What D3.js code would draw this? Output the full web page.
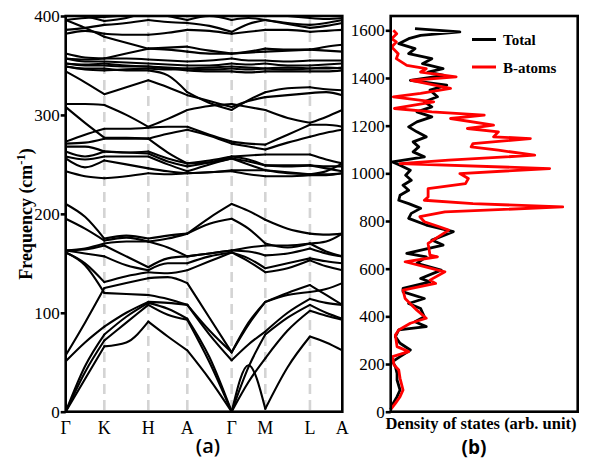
<!DOCTYPE html>
<html>
<head>
<meta charset="utf-8">
<script src="https://cdn.jsdelivr.net/npm/d3@7"></script>
<style>
  body { margin: 0; background: #fff; }
  text { fill: #000; }
</style>
</head>
<body>
<svg id="chart" width="595" height="459"></svg>
<script>
// High-symmetry path of the Brillouin zone
const kLabels = ["Γ", "K", "H", "A", "Γ", "M", "L", "A"];
const kPositions = [0, 0.1396, 0.2986, 0.4396, 0.600, 0.7216, 0.883, 1.0];

// Phonon branches (cm^-1), sampled at every high-symmetry point and at the
// middle of each segment: Γ, ½, K, ½, H, ½, A, ½, Γ, ½, M, ½, L, ½, A
const lowBands = [
  [0, 33, 66, 70, 91, 76, 62, 33, 0, 47, 3, 45, 76, 70, 62],
  [0, 40, 72, 90, 108, 98, 93, 50, 0, 30, 54, 82, 102, 97, 93],
  [0, 46, 78, 96, 110, 104, 94, 55, 0, 45, 78, 95, 108, 100, 94],
  [51, 70, 86, 100, 111, 110, 108, 78, 52, 68, 81, 100, 114, 110, 108],
  [57, 90, 125, 130, 135, 136, 130, 95, 60, 88, 111, 118, 121, 124, 130],
  [161, 148, 120, 119, 118, 114, 108, 82, 60, 90, 111, 120, 128, 118, 108],
  [161, 150, 131, 137, 141, 140, 143, 152, 161, 152, 141, 145, 153, 147, 143],
  [163, 160, 157, 148, 143, 150, 150, 157, 161, 155, 145, 150, 155, 152, 150],
  [163, 164, 168, 157, 146, 155, 157, 160, 163, 162, 158, 160, 165, 160, 157],
  [163, 165, 170, 172, 172, 166, 157, 160, 163, 166, 168, 168, 170, 162, 157],
  [195, 185, 173, 176, 172, 175, 180, 190, 195, 185, 170, 166, 170, 172, 180],
  [210, 197, 175, 178, 175, 178, 180, 196, 210, 203, 194, 185, 180, 179, 180]
];

const midBands = [
  [243, 238, 236, 238, 241, 240, 241, 242, 243, 240, 238, 238, 239, 239, 241],
  [256, 247, 254, 250, 246, 243, 241, 242, 244, 244, 244, 241, 240, 240, 241],
  [258, 255, 258, 258, 258, 250, 243, 250, 256, 253, 249, 248, 249, 246, 243],
  [263, 258, 263, 262, 261, 253, 248, 252, 258, 255, 249, 249, 249, 248, 248],
  [268, 268, 263, 262, 263, 256, 251, 254, 258, 259, 260, 260, 260, 255, 251],
  [271, 272, 276, 276, 276, 281, 285, 279, 271, 268, 265, 272, 278, 282, 285],
  [273, 280, 286, 286, 287, 288, 288, 280, 273, 271, 270, 280, 290, 290, 288],
  [308, 292, 277, 277, 276, 262, 251, 252, 256, 250, 244, 242, 240, 243, 251],
  [311, 311, 310, 300, 288, 296, 305, 309, 311, 308, 305, 297, 292, 298, 305],
  [344, 333, 321, 328, 335, 328, 320, 314, 308, 314, 318, 320, 322, 323, 320],
  [349, 347, 347, 345, 345, 340, 323, 312, 305, 315, 323, 327, 328, 326, 325]
];

const highBands = [
  [352, 350, 350, 349, 349, 347, 345, 344, 344, 343, 344, 344, 344, 344, 345],
  [349, 346, 345, 346, 347, 346, 347, 348, 349, 348, 347, 348, 347, 348, 347],
  [352, 351, 352, 350, 349, 348, 347, 346, 347, 346, 347, 346, 347, 347, 348],
  [357, 354, 354, 353, 352, 351, 350, 350, 352, 351, 352, 350, 350, 351, 352],
  [357, 356, 357, 357, 356, 355, 354, 355, 357, 355, 355, 354, 355, 355, 355],
  [362, 358, 357, 362, 367, 366, 364, 362, 362, 363, 364, 365, 366, 365, 364],
  [396, 388, 379, 373, 367, 368, 369, 365, 362, 364, 367, 366, 366, 369, 371],
  [382, 385, 382, 381, 381, 383, 386, 385, 382, 384, 386, 386, 384, 385, 386],
  [386, 388, 391, 393, 396, 394, 393, 390, 384, 392, 396, 392, 388, 390, 393],
  [396, 398, 399, 401, 405, 400, 396, 400, 396, 398, 396, 393, 391, 393, 396],
  [405, 400, 395, 398, 405, 410, 415, 412, 410, 405, 402, 400, 398, 397, 398]
];

const freqTicks = [0, 100, 200, 300, 400];
const dosTicks = [0, 200, 400, 600, 800, 1000, 1200, 1400, 1600];

// Phonon density of states: [frequency (cm^-1), DOS (arb. unit)]
const totalDos = [
  [1607, 13], [1593, 37], [1579, 16], [1565, 9.6], [1544, 4.3], [1523, 13],
  [1502, 9.6], [1481, 22], [1460, 17], [1439, 28], [1425, 20], [1411, 28.5],
  [1390, 10.5], [1370, 30], [1349, 21], [1321, 25], [1300, 18], [1279, 22],
  [1258, 14], [1237, 22], [1216, 14], [1195, 9.6], [1174, 14], [1153, 19],
  [1132, 12], [1111, 15], [1090, 12], [1069, 18], [1048, 1], [1034, 5],
  [1013, 10.5], [992, 8], [971, 11], [950, 6.6], [929, 9.6], [908, 5],
  [887, 4.3], [873, 9.6], [853, 16], [832, 11], [811, 9.6], [783, 19],
  [755, 33.5], [720, 22], [699, 28], [664, 8.6], [650, 19], [622, 14],
  [594, 27], [559, 16], [545, 21], [517, 6.6], [503, 6.6], [475, 18],
  [454, 9.6], [433, 16], [398, 18], [377, 13], [357, 19], [343, 4.3],
  [315, 2.5], [287, 5], [259, 10.5], [231, 5], [210, 1], [189, 2.5],
  [161, 3.4], [133, 3.4], [91, 5], [63, 3.4], [35, 1.3], [10, 0]
];

const boronDos = [
  [1600, 1.4], [1586, 3.2], [1565, 0.5], [1551, 3], [1530, 0.5], [1502, 4],
  [1481, 3], [1453, 8.6], [1439, 19], [1425, 16], [1405, 35], [1390, 11],
  [1356, 32], [1335, 16], [1321, 1.4], [1300, 23], [1272, 2], [1258, 22],
  [1244, 50], [1230, 32], [1202, 55], [1188, 41], [1174, 57.6], [1153, 55],
  [1146, 74.7], [1125, 44], [1111, 43], [1097, 57.6], [1076, 77], [1055, 31],
  [1041, 5], [1020, 85], [999, 37], [978, 41.5], [957, 40], [936, 20],
  [901, 20], [887, 18], [873, 44], [859, 92], [838, 29], [818, 15.6],
  [797, 18], [776, 26], [762, 31], [706, 20], [657, 21], [650, 25],
  [629, 7.7], [587, 29], [552, 21], [538, 24], [510, 6.6], [475, 7.7],
  [426, 14], [392, 19], [371, 10.5], [343, 4.3], [322, 2.5], [273, 3.4],
  [252, 9.6], [231, 1], [196, 1.8], [175, 4.3], [140, 5], [91, 6.6],
  [63, 5], [35, 2.5], [10, 0]
];

const legendItems = [
  { name: "Total", color: "#000000", data: totalDos },
  { name: "B-atoms", color: "#ff0000", data: boronDos }
];

const svg = d3.select("#chart");
const serif = "'Liberation Serif', 'Times New Roman', serif";

// ---------- Panel (a): phonon dispersion ----------
const bandBox = { left: 65.7, right: 342.3, top: 16, bottom: 411.7 };
const xBand = d3.scaleLinear().domain([0, 1]).range([bandBox.left, bandBox.right]);
const yBand = d3.scaleLinear().domain([0, 400]).range([bandBox.bottom, bandBox.top]);

// sample positions: high-symmetry points plus segment midpoints
const kSamples = [];
kPositions.forEach((k, i) => {
  kSamples.push(k);
  if (i < kPositions.length - 1) kSamples.push((k + kPositions[i + 1]) / 2);
});

svg.append("clipPath").attr("id", "bandClip")
  .append("rect")
  .attr("x", bandBox.left).attr("y", bandBox.top)
  .attr("width", bandBox.right - bandBox.left)
  .attr("height", bandBox.bottom - bandBox.top);

// dashed guides at the interior high-symmetry points
svg.append("g").selectAll("line")
  .data(kPositions.slice(1, -1))
  .join("line")
  .attr("x1", d => xBand(d)).attr("x2", d => xBand(d))
  .attr("y1", bandBox.top).attr("y2", bandBox.bottom)
  .attr("stroke", "#d4d4d4")
  .attr("stroke-width", 2.6)
  .attr("stroke-dasharray", "10,6");

const bandLine = d3.line()
  .x(d => xBand(d.k))
  .y(d => yBand(d.f))
  .curve(d3.curveMonotoneX);

// each branch is drawn segment by segment between high-symmetry points
const bandPieces = [];
[...lowBands, ...midBands, ...highBands].forEach(band => {
  for (let s = 0; s < kPositions.length - 1; s++) {
    const pts = [];
    for (let j = 0; j < 3; j++) {
      const idx = 2 * s + j;
      pts.push({ k: kSamples[idx], f: band[idx] });
    }
    bandPieces.push(pts);
  }
});

svg.append("g")
  .attr("clip-path", "url(#bandClip)")
  .selectAll("path")
  .data(bandPieces)
  .join("path")
  .attr("d", bandLine)
  .attr("fill", "none")
  .attr("stroke", "#000")
  .attr("stroke-width", 2.1)
  .attr("stroke-linecap", "round");

// frame
svg.append("rect")
  .attr("x", bandBox.left).attr("y", bandBox.top)
  .attr("width", bandBox.right - bandBox.left)
  .attr("height", bandBox.bottom - bandBox.top)
  .attr("fill", "none").attr("stroke", "#000").attr("stroke-width", 2.6);

// frequency axis
const yAxisBand = svg.append("g")
  .attr("transform", `translate(${bandBox.left},0)`)
  .call(d3.axisLeft(yBand).tickValues(freqTicks).tickSize(5).tickPadding(1).tickFormat(d3.format("d")));
yAxisBand.select(".domain").remove();
yAxisBand.selectAll(".tick line").attr("stroke-width", 2.6);
yAxisBand.selectAll("text").attr("font-family", serif).attr("font-size", 17);

// k-point labels
svg.append("g").selectAll("text")
  .data(kPositions)
  .join("text")
  .attr("x", d => xBand(d))
  .attr("y", 433.5)
  .attr("text-anchor", "middle")
  .attr("font-family", serif)
  .attr("font-size", 18)
  .text((d, i) => kLabels[i]);

svg.append("text")
  .attr("x", 208).attr("y", 453)
  .attr("text-anchor", "middle")
  .attr("font-family", "'Open Sans', 'Liberation Sans', sans-serif")
  .attr("font-weight", 600)
  .attr("font-size", 20)
  .text("(a)");

// rotated frequency label with superscript
const yTitle = svg.append("text")
  .attr("transform", "translate(32,214) rotate(-90)")
  .attr("text-anchor", "middle")
  .attr("font-family", serif)
  .attr("font-weight", "bold")
  .attr("font-size", 18);
yTitle.append("tspan").text("Frequency (cm");
yTitle.append("tspan").attr("dy", -7).attr("font-size", 12.5).text("-1");
yTitle.append("tspan").attr("dy", 7).text(")");

// ---------- Panel (b): density of states ----------
const dosBox = { left: 390.7, right: 577.7, top: 16, bottom: 411.7 };
const xDos = d3.scaleLinear().domain([0, 100]).range([dosBox.left, dosBox.right]);
const yDos = d3.scaleLinear().domain([0, 1660]).range([dosBox.bottom, dosBox.top]);

const dosLine = d3.line()
  .x(d => xDos(d[1]))
  .y(d => yDos(d[0]));

svg.append("g").selectAll("path")
  .data(legendItems)
  .join("path")
  .attr("d", d => dosLine(d.data))
  .attr("fill", "none")
  .attr("stroke", d => d.color)
  .attr("stroke-width", 2.8)
  .attr("stroke-linejoin", "round");

svg.append("rect")
  .attr("x", dosBox.left).attr("y", dosBox.top)
  .attr("width", dosBox.right - dosBox.left)
  .attr("height", dosBox.bottom - dosBox.top)
  .attr("fill", "none").attr("stroke", "#000").attr("stroke-width", 2.6);

const yAxisDos = svg.append("g")
  .attr("transform", `translate(${dosBox.left},0)`)
  .call(d3.axisLeft(yDos).tickValues(dosTicks).tickSize(5).tickPadding(1).tickFormat(d3.format("d")));
yAxisDos.select(".domain").remove();
yAxisDos.selectAll(".tick line").attr("stroke-width", 2.6);
yAxisDos.selectAll("text").attr("font-family", serif).attr("font-size", 17);

// legend
const legend = svg.append("g").selectAll("g")
  .data(legendItems)
  .join("g")
  .attr("transform", (d, i) => `translate(472,${39.5 + i * 27.5})`);
legend.append("line")
  .attr("x1", 0).attr("x2", 24)
  .attr("stroke", d => d.color)
  .attr("stroke-width", 3);
legend.append("text")
  .attr("x", 31).attr("y", 5.5)
  .attr("font-family", serif)
  .attr("font-weight", "bold")
  .attr("font-size", 15)
  .text(d => d.name);

svg.append("text")
  .attr("x", 481).attr("y", 429)
  .attr("text-anchor", "middle")
  .attr("font-family", serif)
  .attr("font-weight", "bold")
  .attr("font-size", 16.5)
  .text("Density of states (arb. unit)");

svg.append("text")
  .attr("x", 474).attr("y", 454)
  .attr("text-anchor", "middle")
  .attr("font-family", "'Open Sans', 'Liberation Sans', sans-serif")
  .attr("font-weight", 700)
  .attr("font-size", 19)
  .text("(b)");
</script>
</body>
</html>
